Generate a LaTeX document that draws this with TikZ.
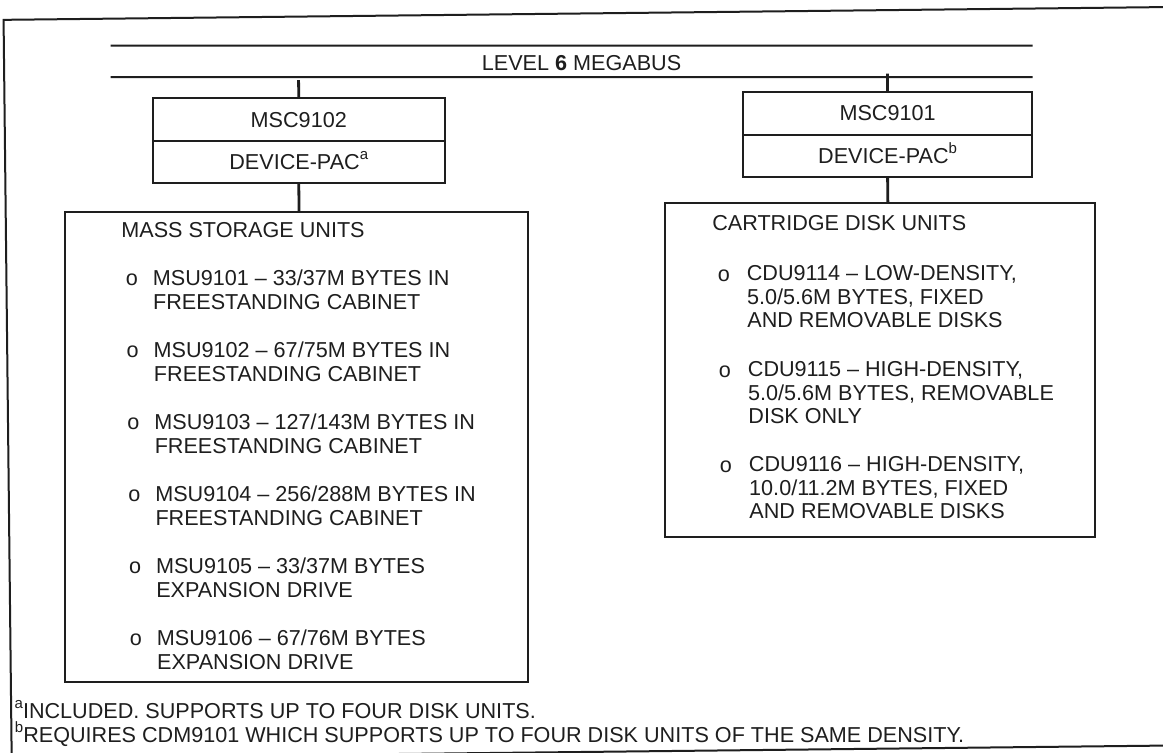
\documentclass[tikz,border=0pt]{standalone}
\usepackage{fontspec}
\setmainfont{Liberation Sans}
\definecolor{ink}{HTML}{1E1E1E}
\newcommand\fnsup[1]{\raisebox{0.9ex}{\fontsize{7.5}{8}\selectfont #1}}
\begin{document}
\begin{tikzpicture}[x=0.5pt,y=-0.5pt,
  every node/.style={inner sep=0pt, outer sep=0pt},
  txt/.style={font=\fontsize{10.8}{12}\selectfont, text=ink, text height=7.7pt, text depth=0pt},
  lbl/.style={txt, anchor=west},
  cbox/.style={txt, draw=ink, line width=1pt, minimum width=146pt},
  ubox/.style={draw=ink, line width=1pt, anchor=north west},
  wire/.style={draw=ink, line width=1.4pt},
  busline/.style={draw=ink, line width=1pt},
  frameline/.style={draw=ink, line width=1pt}]
\useasboundingbox (0,0) rectangle (1163,753);
\fill[white] (0,0) rectangle (1163,753);
\begin{scope}[rotate around={0.63:(581.5,376.5)}]
  % outer frame
  \coordinate (ftl) at (7.5,13.5);
  \coordinate (ftr) at (1175,13.5);
  \coordinate (fbl) at (7.5,752);
  \coordinate (fbr) at (1175,752);
  \draw[frameline] (ftr) -- (ftl) -- (fbl) -- (fbr);
  % bus
  \node[minimum width=461pt, minimum height=15.75pt] (bus) at (575,61.25) {};
  \draw[busline] (bus.north west) -- (bus.north east);
  \draw[busline] (bus.south west) -- (bus.south east);
  \node[txt] (buslabel) at (585,63) {LEVEL \textbf{6} MEGABUS};
  % controllers
  \node[cbox, minimum height=21.5pt] (msc2) at (301.6,116.5) {MSC9102};
  \node[cbox, minimum height=21pt, anchor=north] (pac2) at (msc2.south) {DEVICE-PAC\fnsup{a}};
  \node[cbox, minimum width=144.5pt, minimum height=21.5pt] (msc1) at (890.5,116.5) {MSC9101};
  \node[cbox, minimum width=144.5pt, minimum height=21pt, anchor=north] (pac1) at (msc1.south) {DEVICE-PAC\fnsup{b}};
  % unit boxes
  \node[ubox, minimum width=231.5pt, minimum height=235pt] (mass) at (67,206) {};
  \node[ubox, minimum width=215pt, minimum height=167pt] (cart) at (667,204) {};
  % connectors
  \draw[wire] (msc2.north) -- (msc2.north |- bus.south);
  \draw[wire] (msc1.north) -- (msc1.north |- bus.south);
  \draw[wire] (pac2.south) -- (pac2.south |- mass.north);
  \draw[wire] (pac1.south) -- (pac1.south |- cart.north);
  % mass storage units
  \node[lbl] (mh) at (123,225) {MASS STORAGE UNITS};
  \node[lbl] (mb1) at (127,273) {o};
  \node[lbl] (m1a) at (154,273) {MSU9101 – 33/37M BYTES IN};
  \node[lbl] (m1b) at (154,297) {FREESTANDING CABINET};
  \node[lbl] (mb2) at (127,345) {o};
  \node[lbl] (m2a) at (154,345) {MSU9102 – 67/75M BYTES IN};
  \node[lbl] (m2b) at (154,369) {FREESTANDING CABINET};
  \node[lbl] (mb3) at (127,417) {o};
  \node[lbl] (m3a) at (154,417) {MSU9103 – 127/143M BYTES IN};
  \node[lbl] (m3b) at (154,441) {FREESTANDING CABINET};
  \node[lbl] (mb4) at (127,489) {o};
  \node[lbl] (m4a) at (154,489) {MSU9104 – 256/288M BYTES IN};
  \node[lbl] (m4b) at (154,513) {FREESTANDING CABINET};
  \node[lbl] (mb5) at (127,561) {o};
  \node[lbl] (m5a) at (154,561) {MSU9105 – 33/37M BYTES};
  \node[lbl] (m5b) at (154,585) {EXPANSION DRIVE};
  \node[lbl] (mb6) at (127,633) {o};
  \node[lbl] (m6a) at (154,633) {MSU9106 – 67/76M BYTES};
  \node[lbl] (m6b) at (154,657) {EXPANSION DRIVE};
  % cartridge disk units
  \node[lbl] (ch) at (714,224) {CARTRIDGE DISK UNITS};
  \node[lbl] (cb1) at (719,275) {o};
  \node[lbl] (c1a) at (748,275) {CDU9114 – LOW-DENSITY,};
  \node[lbl] (c1b) at (748,298.5) {5.0/5.6M BYTES, FIXED};
  \node[lbl] (c1c) at (748,322) {AND REMOVABLE DISKS};
  \node[lbl] (cb2) at (719,371) {o};
  \node[lbl] (c2a) at (748,371) {CDU9115 – HIGH-DENSITY,};
  \node[lbl] (c2b) at (748,394.5) {5.0/5.6M BYTES, REMOVABLE};
  \node[lbl] (c2c) at (748,418) {DISK ONLY};
  \node[lbl] (cb3) at (719,466) {o};
  \node[lbl] (c3a) at (748,466) {CDU9116 – HIGH-DENSITY,};
  \node[lbl] (c3b) at (748,489.5) {10.0/11.2M BYTES, FIXED};
  \node[lbl] (c3c) at (748,513) {AND REMOVABLE DISKS};
  % footnotes
  \node[lbl] (fna) at (11,705) {\fnsup{a}INCLUDED. SUPPORTS UP TO FOUR DISK UNITS.};
  \node[lbl] (fnb) at (11,729) {\fnsup{b}REQUIRES CDM9101 WHICH SUPPORTS UP TO FOUR DISK UNITS OF THE SAME DENSITY.};
\end{scope}
\end{tikzpicture}
\end{document}
